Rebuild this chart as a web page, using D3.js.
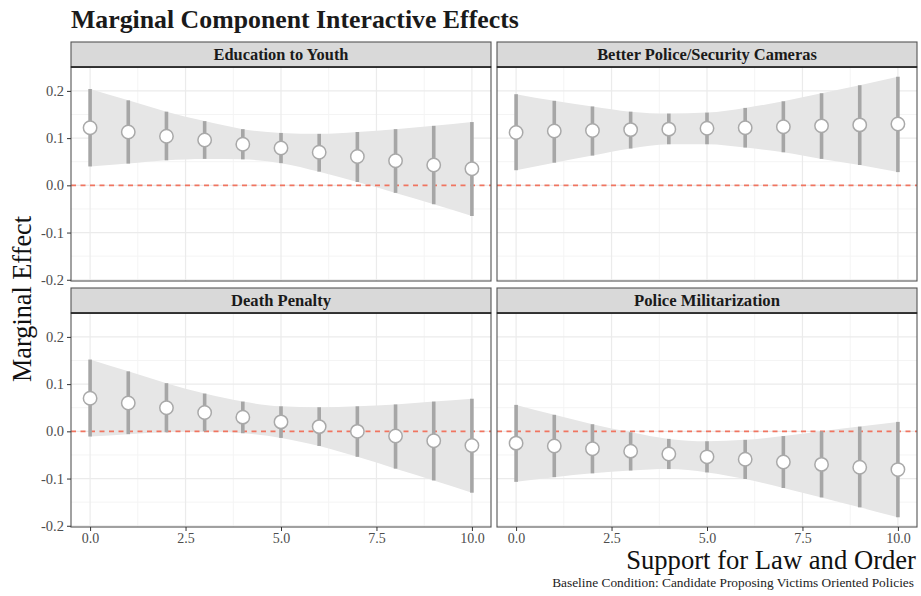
<!DOCTYPE html>
<html>
<head>
<meta charset="utf-8">
<script src="https://cdn.jsdelivr.net/npm/d3@7/dist/d3.min.js"></script>
<style>
  html, body { margin: 0; padding: 0; background: #fff; }
  svg { display: block; }
  text { font-family: "Liberation Serif", "DejaVu Serif", serif; }
</style>
</head>
<body>
<svg id="chart" width="921" height="596"></svg>
<script>
// ---------------- DATA ----------------
const facetNames = ["Education to Youth", "Better Police/Security Cameras", "Death Penalty", "Police Militarization"];
const supportLevels = [0, 1, 2, 3, 4, 5, 6, 7, 8, 9, 10];

const educationEst  = [0.122, 0.113, 0.104, 0.096, 0.087, 0.079, 0.070, 0.061, 0.052, 0.043, 0.035];
const educationLow  = [0.040, 0.046, 0.053, 0.056, 0.055, 0.047, 0.029, 0.007, -0.016, -0.040, -0.065];
const educationHigh = [0.204, 0.180, 0.156, 0.136, 0.119, 0.111, 0.109, 0.113, 0.119, 0.126, 0.134];

const camerasEst  = [0.112, 0.115, 0.116, 0.118, 0.119, 0.121, 0.122, 0.124, 0.126, 0.128, 0.130];
const camerasLow  = [0.032, 0.048, 0.063, 0.078, 0.087, 0.087, 0.080, 0.070, 0.056, 0.043, 0.028];
const camerasHigh = [0.193, 0.179, 0.167, 0.156, 0.152, 0.154, 0.164, 0.178, 0.195, 0.212, 0.230];

const deathEst  = [0.070, 0.060, 0.050, 0.040, 0.030, 0.020, 0.010, 0.000, -0.010, -0.020, -0.030];
const deathLow  = [-0.011, -0.006, -0.002, 0.000, -0.004, -0.014, -0.031, -0.054, -0.079, -0.104, -0.130];
const deathHigh = [0.152, 0.127, 0.102, 0.080, 0.063, 0.053, 0.051, 0.053, 0.057, 0.063, 0.069];

const militarEst  = [-0.025, -0.031, -0.037, -0.042, -0.048, -0.054, -0.059, -0.065, -0.070, -0.076, -0.081];
const militarLow  = [-0.107, -0.097, -0.089, -0.083, -0.080, -0.087, -0.101, -0.120, -0.140, -0.161, -0.182];
const militarHigh = [0.056, 0.035, 0.015, -0.002, -0.016, -0.021, -0.018, -0.010, 0.000, 0.010, 0.020];

const xTicks = [0, 2.5, 5, 7.5, 10];
const xMinor = [1.25, 3.75, 6.25, 8.75];
const yTicks = [-0.2, -0.1, 0.0, 0.1, 0.2];
const yMinor = [-0.15, -0.05, 0.05, 0.15];
const xTickLabels = ["0.0", "2.5", "5.0", "7.5", "10.0"];
const yTickLabels = ["-0.2", "-0.1", "0.0", "0.1", "0.2"];

const titleText = "Marginal Component Interactive Effects";
const xTitle = "Support for Law and Order";
const yTitle = "Marginal Effect";
const captionText = "Baseline Condition: Candidate Proposing Victims Oriented Policies";

// ---------------- BUILD ----------------
const series = [
  { name: facetNames[0], est: educationEst, low: educationLow, high: educationHigh },
  { name: facetNames[1], est: camerasEst,   low: camerasLow,   high: camerasHigh },
  { name: facetNames[2], est: deathEst,     low: deathLow,     high: deathHigh },
  { name: facetNames[3], est: militarEst,   low: militarLow,   high: militarHigh }
];

const svg = d3.select("#chart");

const panelW = 420, panelH = 214, stripH = 25;
const colX = [71, 497];
const rowY = [42, 288]; // strip tops

const allLow = d3.min(series, s => d3.min(s.low));
const allHigh = d3.max(series, s => d3.max(s.high));
const span = allHigh - allLow;

const x = d3.scaleLinear().domain([-0.5, 10.5]).range([0, panelW]);
const y = d3.scaleLinear().domain([allLow - 0.05 * span, allHigh + 0.05 * span]).range([panelH, 0]);

const ribbonArea = d3.area()
  .x(d => x(d.x))
  .y0(d => y(d.low))
  .y1(d => y(d.high))
  .curve(d3.curveMonotoneX);

function fitText(sel, target) {
  const fs = parseFloat(sel.attr("font-size"));
  const w = sel.node().getComputedTextLength();
  if (w > 0) sel.attr("font-size", (fs * target / w).toFixed(2));
}

series.forEach((s, i) => {
  const col = i % 2, row = Math.floor(i / 2);
  const px = colX[col], sy = rowY[row], py = sy + stripH;
  const g = svg.append("g").attr("transform", `translate(${px},${py})`);

  // minor grid
  g.append("g").selectAll("line").data(yMinor).join("line")
    .attr("x1", 0).attr("x2", panelW)
    .attr("y1", d => y(d)).attr("y2", d => y(d))
    .attr("stroke", "#f4f4f4").attr("stroke-width", 1);
  g.append("g").selectAll("line").data(xMinor).join("line")
    .attr("y1", 0).attr("y2", panelH)
    .attr("x1", d => x(d)).attr("x2", d => x(d))
    .attr("stroke", "#f4f4f4").attr("stroke-width", 1);
  // major grid
  g.append("g").selectAll("line").data(yTicks).join("line")
    .attr("x1", 0).attr("x2", panelW)
    .attr("y1", d => y(d)).attr("y2", d => y(d))
    .attr("stroke", "#ebebeb").attr("stroke-width", 1.2);
  g.append("g").selectAll("line").data(xTicks).join("line")
    .attr("y1", 0).attr("y2", panelH)
    .attr("x1", d => x(d)).attr("x2", d => x(d))
    .attr("stroke", "#ebebeb").attr("stroke-width", 1.2);

  // ribbon
  const rows = supportLevels.map((v, k) => ({ x: v, est: s.est[k], low: s.low[k], high: s.high[k] }));
  g.append("path").datum(rows)
    .attr("d", ribbonArea)
    .attr("fill", "#e6e6e6");

  // zero reference line
  g.append("line")
    .attr("x1", 0).attr("x2", panelW)
    .attr("y1", y(0)).attr("y2", y(0))
    .attr("stroke", "#f07560").attr("stroke-width", 1.6)
    .attr("stroke-dasharray", "5,4.5");

  // error bars
  g.append("g").selectAll("line").data(rows).join("line")
    .attr("x1", d => x(d.x)).attr("x2", d => x(d.x))
    .attr("y1", d => y(d.low)).attr("y2", d => y(d.high))
    .attr("stroke", "#a6a6a6").attr("stroke-width", 3.6);

  // points
  g.append("g").selectAll("circle").data(rows).join("circle")
    .attr("cx", d => x(d.x)).attr("cy", d => y(d.est))
    .attr("r", 6.7)
    .attr("fill", "#ffffff")
    .attr("stroke", "#a9a9a9").attr("stroke-width", 1.5);

  // panel border
  g.append("rect")
    .attr("x", 0).attr("y", 0).attr("width", panelW).attr("height", panelH)
    .attr("fill", "none").attr("stroke", "#555").attr("stroke-width", 1.1);

  // strip
  svg.append("rect")
    .attr("x", px).attr("y", sy).attr("width", panelW).attr("height", stripH)
    .attr("fill", "#d9d9d9").attr("stroke", "#555").attr("stroke-width", 1.1);
  svg.append("line")
    .attr("x1", px).attr("x2", px + panelW).attr("y1", py).attr("y2", py)
    .attr("stroke", "#1a1a1a").attr("stroke-width", 1.3);
  const stripTargets = [135, 220, 100, 146];
  const st = svg.append("text")
    .attr("x", px + panelW / 2).attr("y", sy + 17.5)
    .attr("text-anchor", "middle")
    .attr("font-size", 15).attr("font-weight", "bold")
    .attr("fill", "#1a1a1a")
    .text(s.name);
  fitText(st, stripTargets[i]);

  // y axis (left column only)
  if (col === 0) {
    const ya = g.append("g")
      .call(d3.axisLeft(y).tickValues(yTicks).tickSize(4).tickPadding(3)
        .tickFormat((d, k) => yTickLabels[k]));
    ya.select(".domain").remove();
    ya.selectAll("line").attr("stroke", "#333");
    ya.selectAll("text").attr("font-size", 14.5).attr("fill", "#4d4d4d")
      .attr("font-family", "Liberation Serif, serif");
  }
  // x axis (bottom row only)
  if (row === 1) {
    const xa = g.append("g").attr("transform", `translate(0,${panelH})`)
      .call(d3.axisBottom(x).tickValues(xTicks).tickSize(4).tickPadding(2)
        .tickFormat((d, k) => xTickLabels[k]));
    xa.select(".domain").remove();
    xa.selectAll("line").attr("stroke", "#333");
    xa.selectAll("text").attr("font-size", 14).attr("fill", "#4d4d4d")
      .attr("font-family", "Liberation Serif, serif");
  }
});

// title
const tt = svg.append("text")
  .attr("x", 71).attr("y", 28)
  .attr("font-size", 24).attr("font-weight", "bold").attr("fill", "#1a1a1a")
  .text(titleText);
fitText(tt, 448);

// y title
const yt = svg.append("text")
  .attr("transform", "translate(31,299) rotate(-90)")
  .attr("text-anchor", "middle")
  .attr("font-size", 26).attr("fill", "#111")
  .text(yTitle);
fitText(yt, 166);

// x title
const xt = svg.append("text")
  .attr("x", 916).attr("y", 569)
  .attr("text-anchor", "end")
  .attr("font-size", 26).attr("fill", "#111")
  .text(xTitle);
fitText(xt, 290);

// caption
const ct = svg.append("text")
  .attr("x", 914).attr("y", 587)
  .attr("text-anchor", "end")
  .attr("font-size", 12).attr("fill", "#222")
  .text(captionText);
fitText(ct, 362);
</script>
</body>
</html>
